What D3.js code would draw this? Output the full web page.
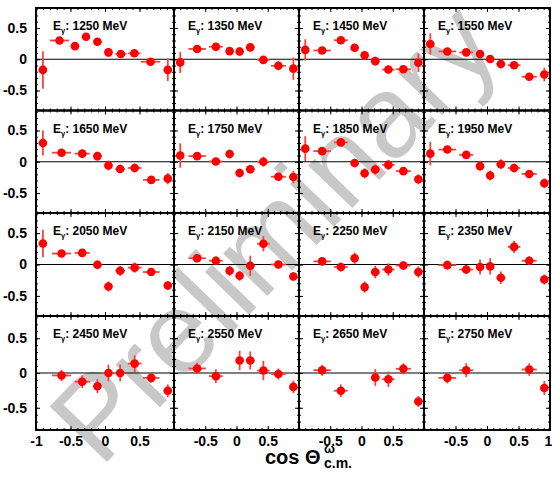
<!DOCTYPE html>
<html>
<head>
<meta charset="utf-8">
<script src="https://cdn.jsdelivr.net/npm/d3@7"></script>
<style>
body{margin:0;background:#fff;}
svg{display:block;font-family:"Liberation Sans",Arial,Helvetica,sans-serif;}
</style>
</head>
<body>
<svg></svg>
<script>
// photon energies, one panel each
var energies = [1250,1350,1450,1550,1650,1750,1850,1950,
                2050,2150,2250,2350,2450,2550,2650,2750];

// cos theta bins (centres and half widths)
var cosBins   = [-0.9,-0.63,-0.33,-0.11,0.05,0.22,0.43,0.67,0.91];
var cosWidths = [0.06,0.14,0.11,0.06,0.06,0.07,0.10,0.12,0.06];
// the 1250 MeV panel uses a finer binning
var cosBins1250   = [-0.9,-0.66,-0.435,-0.275,-0.11,0.05,0.23,0.425,0.66,0.91];
var cosWidths1250 = [0.06,0.14,0.06,0.05,0.06,0.06,0.08,0.09,0.14,0.06];

// asymmetry values, null = no point
var asymmetry = [
    [-0.17,0.30,0.21,0.36,0.28,0.11,0.085,0.095,-0.04,-0.17],
    [-0.05,0.165,0.20,0.13,0.125,0.19,-0.01,-0.105,-0.15],
    [0.15,0.14,0.305,0.185,0.065,-0.03,-0.165,-0.16,-0.055],
    [0.245,0.125,0.11,0.085,0.005,-0.075,-0.095,-0.28,-0.245],
    [0.30,0.145,0.13,0.09,-0.06,-0.115,-0.10,-0.29,-0.27],
    [0.10,0.09,0.005,0.125,-0.18,-0.12,0.0,-0.24,-0.245],
    [0.21,0.17,0.31,-0.02,-0.185,-0.125,-0.05,-0.15,-0.28],
    [0.13,0.195,0.11,-0.07,-0.22,-0.04,-0.10,-0.195,-0.345],
    [0.335,0.175,0.185,-0.005,-0.35,-0.10,-0.05,-0.12,-0.335],
    [null,0.10,0.06,-0.10,-0.18,-0.02,0.33,0.0,-0.19],
    [null,0.05,-0.04,0.10,-0.36,-0.12,-0.08,-0.015,-0.12],
    [null,-0.01,-0.08,-0.04,-0.03,-0.21,0.28,0.06,-0.24],
    [null,-0.035,-0.125,-0.19,0.0,0.0,0.135,-0.07,-0.255],
    [null,0.065,-0.045,null,0.18,0.18,0.035,-0.015,-0.20],
    [null,0.04,-0.255,null,null,-0.065,-0.09,0.06,-0.41],
    [null,-0.07,0.04,null,null,null,null,0.05,-0.215]
];

// statistical errors on the asymmetry
var asymErr = [
    [0.30,0.04,0.05,0.05,0.05,0.07,0.05,0.06,0.05,0.18],
    [0.17,0.05,0.05,0.06,0.07,0.06,0.05,0.07,0.18],
    [0.17,0.05,0.05,0.06,0.07,0.07,0.06,0.06,0.15],
    [0.17,0.05,0.05,0.06,0.06,0.07,0.06,0.06,0.11],
    [0.20,0.05,0.05,0.07,0.08,0.07,0.07,0.05,0.09],
    [0.195,0.05,0.05,0.07,0.07,0.07,0.08,0.05,0.10],
    [0.20,0.05,0.05,0.07,0.08,0.08,0.08,0.05,0.08],
    [0.19,0.05,0.05,0.07,0.08,0.08,0.07,0.05,0.08],
    [0.22,0.05,0.05,0.07,0.08,0.08,0.08,0.05,0.07],
    [null,0.06,0.07,0.08,0.08,0.16,0.12,0.06,0.07],
    [null,0.07,0.07,0.09,0.09,0.10,0.10,0.07,0.09],
    [null,0.07,0.07,0.12,0.13,0.10,0.10,0.07,0.08],
    [null,0.08,0.09,0.10,0.12,0.12,0.12,0.07,0.09],
    [null,0.08,0.10,null,0.14,0.13,0.14,0.08,0.09],
    [null,0.08,0.09,null,null,0.12,0.11,0.08,0.08],
    [null,0.08,0.10,null,null,null,null,0.09,0.10]
];

var xMajor = [-1,-0.5,0,0.5,1];
var xMinor = d3.range(-10,11).map(function(i){return i/10;});
var yMajor = [-0.5,0,0.5];
var yMinor = d3.range(-8,9).map(function(i){return i/10;});

var makeTranslateString = function(x,y)
{
    return "translate("+x+","+y+")";
}

var addAxis = function(g,axis,x,y)
{
    var a = g.append("g")
        .attr("transform",makeTranslateString(x,y))
        .call(axis);
    a.select(".domain").remove();
    a.attr("font-family",null)
        .attr("font-size",14)
        .attr("font-weight","bold");
    a.selectAll("line").attr("stroke","#000");
    return a;
}

var drawTicks = function(g,xScale,yScale,w,h,col,row)
{
    var xFmt = function(d)
    {
        if(row!=3) return "";
        if(d==-1 && col!=0) return "";
        if(d==1 && col!=3) return "";
        return String(d);
    }
    var yFmt = function(d)
    {
        return col==0 ? String(d) : "";
    }
    // major + minor ticks on all four sides, pointing inwards
    var bx = addAxis(g,d3.axisBottom(xScale).tickValues(xMajor).tickSize(-4)
            .tickPadding(6).tickFormat(xFmt),0,h);
    // keep the last "1" inside the picture
    bx.selectAll("text").filter(function(d){return d==1;}).attr("dx",-2);
    addAxis(g,d3.axisBottom(xScale).tickValues(xMinor).tickSize(-2)
            .tickFormat(""),0,h);
    addAxis(g,d3.axisTop(xScale).tickValues(xMajor).tickSize(-4)
            .tickFormat(""),0,0);
    addAxis(g,d3.axisTop(xScale).tickValues(xMinor).tickSize(-2)
            .tickFormat(""),0,0);
    addAxis(g,d3.axisLeft(yScale).tickValues(yMajor).tickSize(-4)
            .tickPadding(9).tickFormat(yFmt),0,0);
    addAxis(g,d3.axisLeft(yScale).tickValues(yMinor).tickSize(-2)
            .tickFormat(""),0,0);
    addAxis(g,d3.axisRight(yScale).tickValues(yMajor).tickSize(-4)
            .tickFormat(""),w,0);
    addAxis(g,d3.axisRight(yScale).tickValues(yMinor).tickSize(-2)
            .tickFormat(""),w,0);
}

var drawPoints = function(g,k,xScale,yScale)
{
    var bins = k==0 ? cosBins1250 : cosBins;
    var widths = k==0 ? cosWidths1250 : cosWidths;
    var pts = bins.map(function(c,i)
        {
            return {c:c,dc:widths[i],v:asymmetry[k][i],e:asymErr[k][i]};
        })
        .filter(function(p){return p.v!==null;});

    var pg = g.selectAll("g.pt")
        .data(pts)
        .enter()
        .append("g")
        .classed("pt",true);

    pg.append("line")
        .attr("x1",function(p){return xScale(p.c-p.dc);})
        .attr("x2",function(p){return xScale(p.c+p.dc);})
        .attr("y1",function(p){return yScale(p.v);})
        .attr("y2",function(p){return yScale(p.v);})
        .attr("stroke","#ff4040")
        .attr("stroke-width",1.8);
    pg.append("line")
        .attr("x1",function(p){return xScale(p.c);})
        .attr("x2",function(p){return xScale(p.c);})
        .attr("y1",function(p){return yScale(p.v-p.e);})
        .attr("y2",function(p){return yScale(p.v+p.e);})
        .attr("stroke","#ff4040")
        .attr("stroke-width",1.8);
    pg.append("circle")
        .attr("cx",function(p){return xScale(p.c);})
        .attr("cy",function(p){return yScale(p.v);})
        .attr("r",4.3)
        .attr("fill","#ff0000");
}

var drawLegend = function(g,k,col)
{
    var t = g.append("text")
        .attr("x",col==0 ? 17 : 14)
        .attr("y",22)
        .attr("font-size",12)
        .attr("font-weight","bold")
        .attr("fill","#000");
    t.append("tspan").text("E");
    t.append("tspan").text("\u03b3")
        .attr("font-size",7.5)
        .attr("dy",3);
    t.append("tspan").text(": "+energies[k]+" MeV")
        .attr("dy",-3);
}

var drawTitle = function(svg)
{
    var title = svg.append("g")
        .attr("font-weight","bold")
        .attr("fill","#000");
    title.append("text")
        .attr("x",265)
        .attr("y",464)
        .attr("font-size",20)
        .text("cos \u0398");
    title.append("text")
        .attr("x",324)
        .attr("y",453)
        .attr("font-size",13)
        .text("\u03c9");
    title.append("text")
        .attr("x",324)
        .attr("y",468)
        .attr("font-size",14)
        .text("c.m.");
}

var initGraph = function()
{
    var screen = {width:552,height:481};
    // frame edges of the 4x4 grid
    var colEdges = [36,174,299,424,550];
    var rowEdges = [8,110.5,213,316,430];

    var svg = d3.select("svg")
        .attr("width",screen.width)
        .attr("height",screen.height);

    svg.append("rect")
        .attr("width",screen.width)
        .attr("height",screen.height)
        .attr("fill","#fff");

    // watermark underneath everything
    svg.append("text")
        .attr("transform","translate(302,260) rotate(-46)")
        .attr("text-anchor","middle")
        .attr("font-size",116)
        .attr("fill","#c8c8c8")
        .text("Preliminary");

    energies.forEach(function(en,k)
    {
        var col = k%4, row = Math.floor(k/4);
        var w = colEdges[col+1]-colEdges[col];
        var h = rowEdges[row+1]-rowEdges[row];
        var g = svg.append("g")
            .attr("transform",makeTranslateString(colEdges[col],rowEdges[row]));

        var xScale = d3.scaleLinear()
            .domain([-1,1])
            .range([0,w]);
        var yScale = d3.scaleLinear()
            .domain([-0.82,0.82])
            .range([h,0]);

        drawTicks(g,xScale,yScale,w,h,col,row);

        g.append("line")
            .attr("x1",0).attr("x2",w)
            .attr("y1",yScale(0)).attr("y2",yScale(0))
            .attr("stroke","#000")
            .attr("stroke-width",1.2);

        drawPoints(g,k,xScale,yScale);
        drawLegend(g,k,col);

        g.append("rect")
            .attr("width",w)
            .attr("height",h)
            .attr("fill","none")
            .attr("stroke","#000")
            .attr("stroke-width",2);
    });

    drawTitle(svg);
}

initGraph();
</script>
</body>
</html>
